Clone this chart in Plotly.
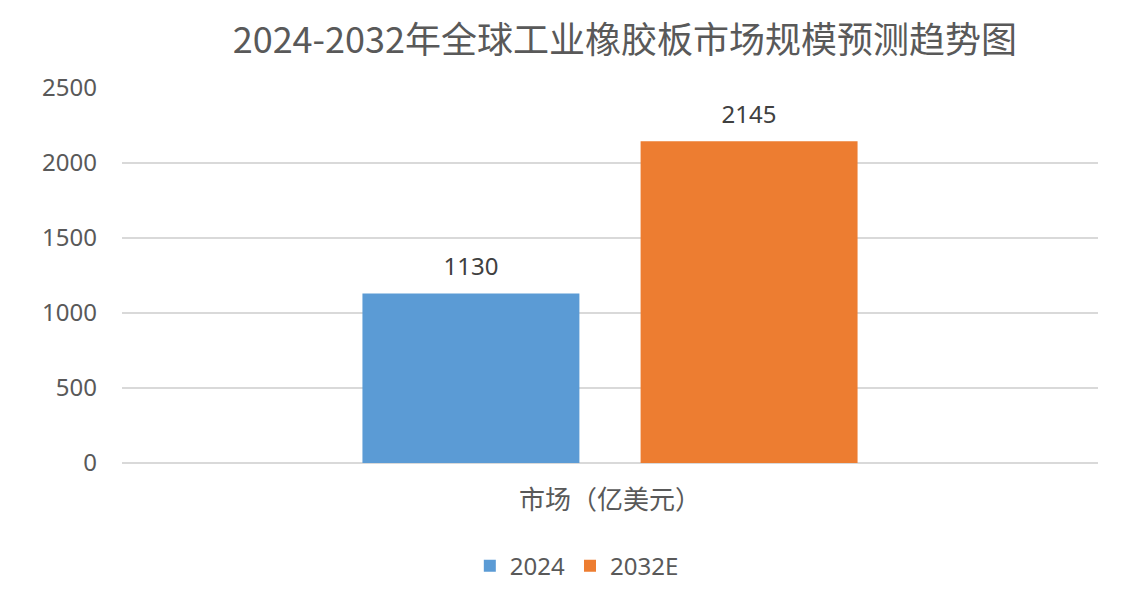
import plotly.graph_objects as go

categories = ["市场（亿美元）"]
series_names = ["2024", "2032E"]
values_2024 = [1130]
values_2032 = [2145]
colors = ["#5B9BD5", "#ED7D31"]
tick_vals = [0, 500, 1000, 1500, 2000, 2500]

font_family = "Noto Sans, Noto Sans CJK SC, sans-serif"
cjk_family = "Noto Sans CJK SC, sans-serif"

fig = go.Figure()
for i, (name, vals, col) in enumerate(zip(series_names, [values_2024, values_2032], colors)):
    fig.add_trace(go.Bar(
        x=categories, y=vals, name=name, offsetgroup=str(i), alignmentgroup="g",
        marker=dict(color=col, line=dict(width=0)),
    ))
for i, vals in enumerate([values_2024, values_2032]):
    fig.add_trace(go.Scatter(
        x=categories, y=vals, mode="markers+text", offsetgroup=str(i), alignmentgroup="g",
        text=[str(v) for v in vals], textposition="top center",
        marker=dict(size=18, opacity=0), showlegend=False, hoverinfo="skip",
        textfont=dict(size=24, color="#404040", family=font_family), cliponaxis=False,
    ))

fig.update_layout(
    width=1136, height=595,
    paper_bgcolor="white", plot_bgcolor="white",
    margin=dict(l=114, r=46, t=80, b=140),
    barmode="group", bargap=0.43, bargroupgap=0.22,
    scattermode="group", scattergap=0.43,
    title=dict(text="2024-2032年全球工业橡胶板市场规模预测趋势图",
               x=0.543, xanchor="center", y=0.945, yanchor="middle",
               font=dict(size=36, color="#595959", family=cjk_family)),
    font=dict(family=font_family, color="#595959", size=24),
    showlegend=True,
    legend=dict(orientation="h", x=0.466, xanchor="center", y=-0.275, yanchor="middle",
                font=dict(size=24, color="#595959", family=font_family),
                itemwidth=30, traceorder="normal"),
    yaxis=dict(range=[0, 2500], tickvals=tick_vals, showgrid=True, gridcolor="#D9D9D9",
               gridwidth=1.5, zeroline=True, zerolinecolor="#D9D9D9", zerolinewidth=1.5,
               ticklabelstandoff=24, tickfont=dict(size=24, color="#595959"), showline=False),
    xaxis=dict(tickfont=dict(size=26, color="#595959", family=cjk_family),
               showline=False, ticks="", ticklabelstandoff=19),
)
fig.write_html("out.html")
